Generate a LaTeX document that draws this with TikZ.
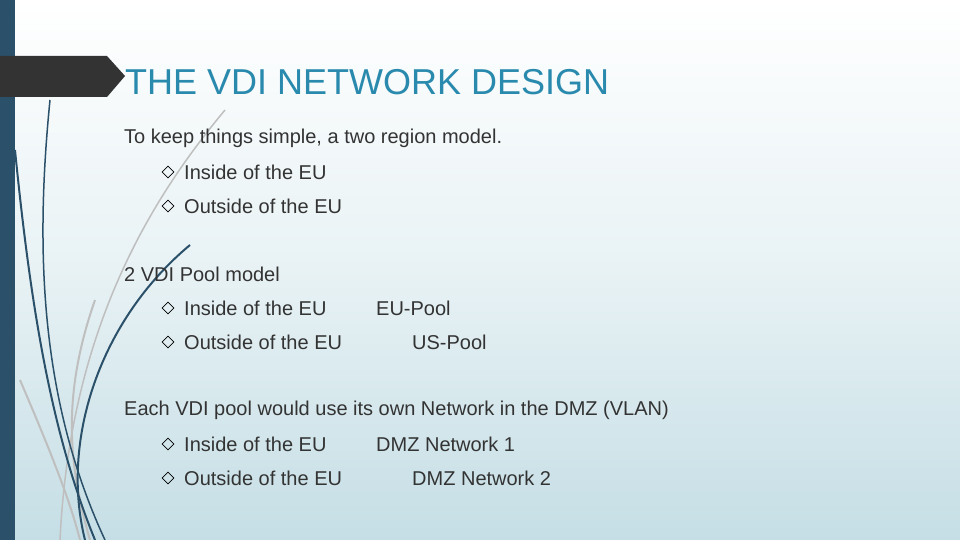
\documentclass[tikz,border=0pt]{standalone}
\usepackage{fontspec}
\setmainfont{Liberation Sans}
\usetikzlibrary{shapes.geometric}
\definecolor{bar}{HTML}{2B5069}
\definecolor{ttl}{HTML}{2A8AAE}
\definecolor{txt}{HTML}{333333}
\definecolor{bgb}{HTML}{C5DEE5}
\begin{document}
\begin{tikzpicture}[x=1pt,y=-1pt,
  body/.style={anchor=west,inner sep=0pt,text=txt,font=\fontsize{20}{22}\selectfont},
  bul/.style={diamond,draw=black,line width=0.8pt,inner sep=0pt,minimum size=12pt},
  dk/.style={draw=bar,line width=2pt},
  gr/.style={draw=gray!50,line width=2pt}]
\useasboundingbox (0,0) rectangle (960,540);
\shade[top color=white,bottom color=bgb,middle color=white!60!bgb] (0,0) rectangle (960,540);
\fill[bar] (0,0) rectangle (15,540);
% decorative curves
\draw[gr,line width=1.5pt] (225,110) .. controls (150,200) and (70,330) .. (60,540);
\draw[gr] (95,300) .. controls (60,400) and (70,470) .. (90,540);
\draw[gr] (20,380) .. controls (50,450) and (70,500) .. (80,540);
\draw[dk,line width=1.5pt] (50,100) .. controls (35,250) and (40,400) .. (105,540);
\draw[dk] (15,150) .. controls (30,300) and (50,430) .. (95,540);
\draw[dk] (190,245) .. controls (100,320) and (60,440) .. (85,540);
% title bar
\fill[black!80] (0,56) -- (107,56) -- (125,76) -- (107,97) -- (0,97) -- cycle;
\node[anchor=west,inner sep=0pt,text=ttl,font=\fontsize{36}{40}\selectfont] (t) at (125,82) {THE VDI NETWORK DESIGN};
\node[body] (l1) at (124,138) {To keep things simple, a two region model.};
\node[bul] (b1) at (168,172) {}; \node[body] (l2) at (184,172) {Inside of the EU};
\node[bul] (b2) at (168,206) {}; \node[body] (l3) at (184,206) {Outside of the EU};
\node[body] (l4) at (124,274) {2 VDI Pool model};
\node[bul] (b3) at (168,308) {}; \node[body] (l5) at (184,308) {Inside of the EU};
\node[body] (p1) at (376,308) {EU-Pool};
\node[bul] (b4) at (168,342) {}; \node[body] (l6) at (184,342) {Outside of the EU};
\node[body] (p2) at (412,342) {US-Pool};
\node[body] (l7) at (124,410) {Each VDI pool would use its own Network in the DMZ (VLAN)};
\node[bul] (b5) at (168,444) {}; \node[body] (l8) at (184,444) {Inside of the EU};
\node[body] (d1) at (376,444) {DMZ Network 1};
\node[bul] (b6) at (168,478) {}; \node[body] (l9) at (184,478) {Outside of the EU};
\node[body] (d2) at (412,478) {DMZ Network 2};
\end{tikzpicture}
\end{document}
